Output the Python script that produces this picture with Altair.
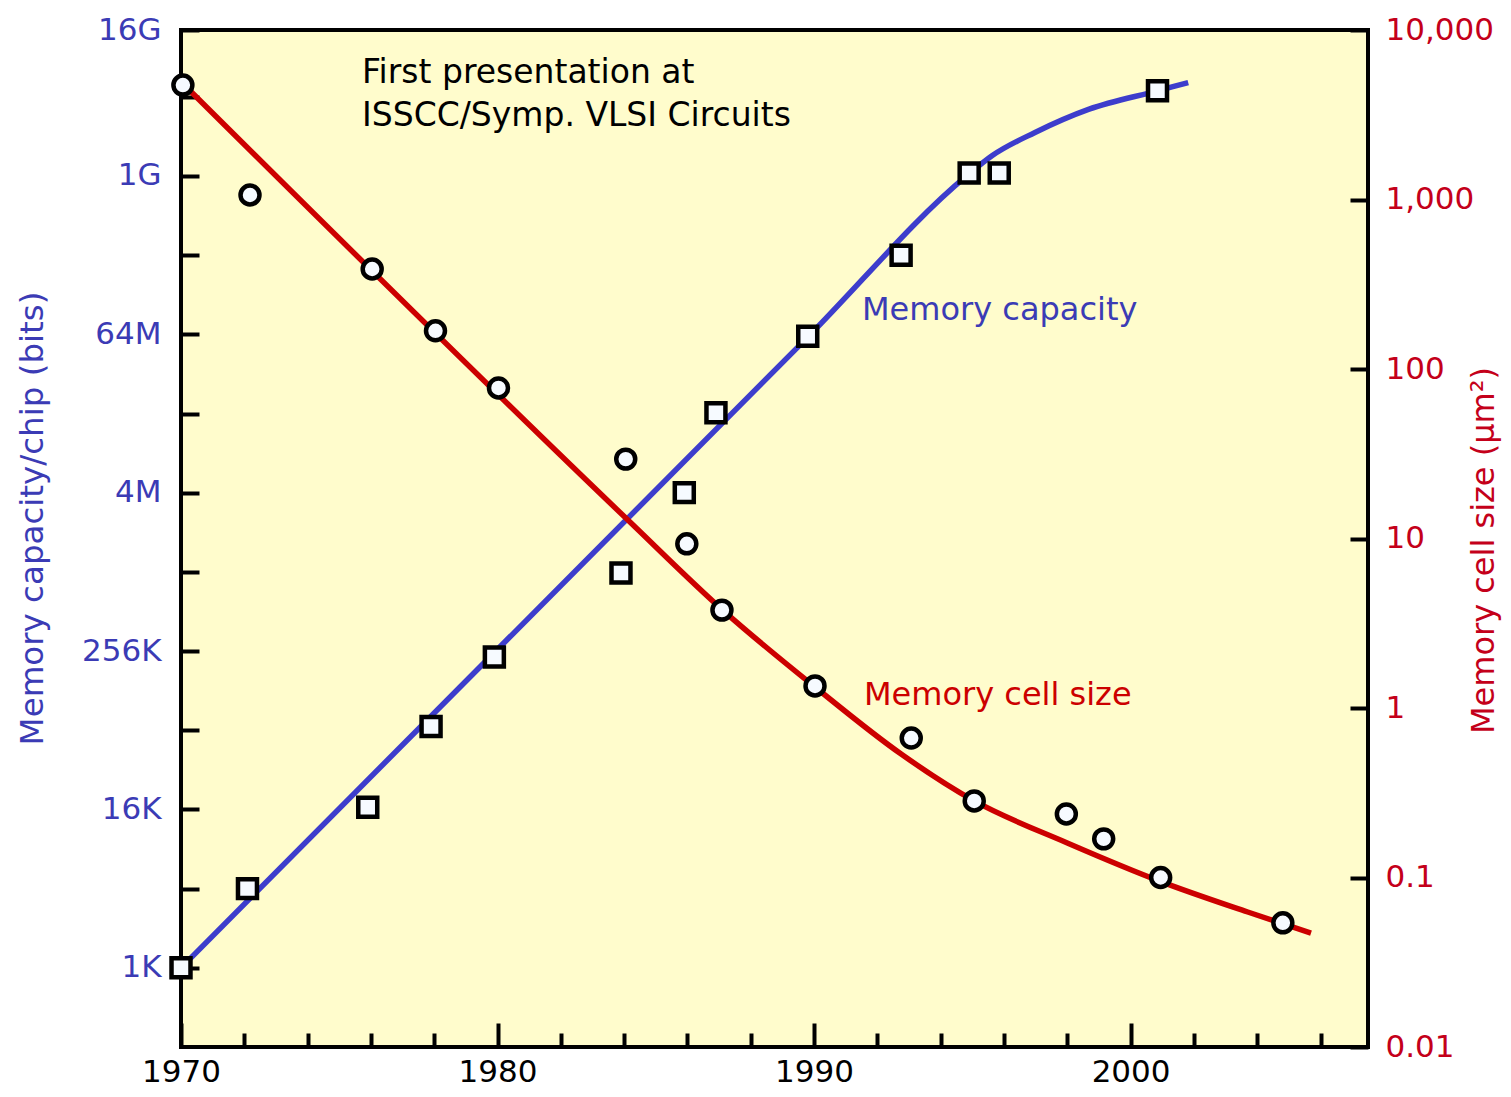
import altair as alt
import pandas as pd

# ---------------- data ----------------
# Memory capacity per chip (squares), bits
cap_years = [1970.0, 1972.1, 1975.9, 1977.9, 1979.9, 1983.9, 1985.9, 1986.9,
             1989.8, 1992.75, 1994.9, 1995.85, 2000.85]
cap_bits = [1024, 4096, 17000, 70000, 236000, 1.03e6, 4.2e6, 17e6,
            65e6, 268e6, 1.13e9, 1.13e9, 4.77e9]

# Memory capacity trend curve
cap_curve_years = [1970.0, 1989.84, 1994.81, 1995.62,
                   1996.98, 1998.69, 2000.85, 2001.82]
cap_curve_bits = [1024, 65.3e6, 1.07e9, 1.53e9,
                  2.3e9, 3.46e9, 4.77e9, 5.51e9]

# Memory cell size (circles), um^2
cell_years = [1970.06, 1972.18, 1976.04, 1978.04, 1980.03, 1984.05, 1985.98,
              1987.09, 1990.03, 1993.07, 1995.06, 1997.97, 1999.15, 2000.95,
              2004.81]
cell_um2 = [4730, 1063, 389, 168, 77.3, 29.4, 9.3, 3.78, 1.35, 0.665, 0.283,
            0.237, 0.169, 0.1, 0.054]

# Memory cell size trend curve
cell_curve_years = [1970.2, 1984.11, 1987.15, 1990.03, 1992.75, 1995.06,
                    1998.0, 2001.0, 2003.7, 2005.7]
cell_curve_um2 = [4550, 12.9, 3.73, 1.33, 0.535, 0.283, 0.160,
                  0.094, 0.0626, 0.047]

# axis ticks / labels
x_major = [1970, 1980, 1990, 2000]
x_minor = [1972, 1974, 1976, 1978, 1982, 1984, 1986, 1988, 1992, 1994, 1996,
           1998, 2002, 2004, 2006]
cap_top = 1.383e10
cap_ticks = [2 ** k for k in range(10, 33, 2)] + [cap_top]
cap_labels = ["1K", "", "16K", "", "256K", "", "4M", "", "64M", "", "1G", "", "16G"]
cell_ticks = [0.01, 0.1, 1, 10, 100, 1000, 10000]
cell_labels = ["0.01", "0.1", "1", "10", "100", "1,000", "10,000"]

annot_lines = ["First presentation at", "ISSCC/Symp. VLSI Circuits"]

# ---------------- styling ----------------
FONT = "DejaVu Sans"
BLUE = "#3D3DCC"
BLUE_TXT = "#3B3BB5"
RED = "#CC0000"
RED_TXT = "#C4001A"
W, H = 1187, 1017


def expr_from(ticks, labels):
    parts = []
    for v, l in zip(ticks, labels):
        if l:
            parts.append(f"abs(datum.value - {v!r}) < {abs(v) * 1e-6!r} ? '{l}'")
    return " : ".join(parts) + " : ''"


x_scale = alt.Scale(domain=[1970, 2007.5], nice=False, zero=False)
yl_scale = alt.Scale(type="log", base=2, domain=[256, cap_top], nice=False)
yr_scale = alt.Scale(type="log", base=10, domain=[0.01, 10000], nice=False)

x_major_axis = alt.Axis(values=x_major, orient="bottom", offset=-24, tickSize=24,
                        tickWidth=4, tickColor="black", domain=False, grid=False,
                        labelFontSize=31, labelColor="black", labelPadding=10,
                        labelFlush=False, labelOverlap=False, format="d",
                        labelFont=FONT, title=None)
x_minor_axis = alt.Axis(values=x_minor, orient="bottom", offset=-14, tickSize=14,
                        tickWidth=4, tickColor="black", domain=False, grid=False,
                        labels=False, title=None)

left_axis = alt.Axis(values=cap_ticks, labelExpr=expr_from(cap_ticks, cap_labels),
                     orient="left", offset=-18, tickSize=18, tickWidth=4,
                     tickColor="black", domain=False, grid=False,
                     labelColor=BLUE_TXT, labelFontSize=31, labelFont=FONT,
                     labelPadding=20, labelOverlap=False, labelFlush=False,
                     title="Memory capacity/chip (bits)", titleColor=BLUE_TXT,
                     titleFontSize=32.5, titleFont=FONT, titleFontWeight="normal",
                     titleAngle=270, titleX=-167, titleY=488, titleAlign="center",
                     titleBaseline="middle")

right_axis = alt.Axis(values=cell_ticks, labelExpr=expr_from(cell_ticks, cell_labels),
                      orient="right", offset=-18, tickSize=18, tickWidth=4,
                      tickColor="black", domain=False, grid=False,
                      labelColor=RED_TXT, labelFontSize=31, labelFont=FONT,
                      labelPadding=17, labelOverlap=False, labelFlush=False,
                      title="Memory cell size (μm²)", titleColor=RED_TXT,
                      titleFontSize=32, titleFont=FONT, titleFontWeight="normal",
                      titleAngle=270, titleX=133, titleY=520, titleAlign="center",
                      titleBaseline="middle")

cap_df = pd.DataFrame({"year": cap_years, "bits": cap_bits})
cap_curve_df = pd.DataFrame({"year": cap_curve_years, "bits": cap_curve_bits})
cell_df = pd.DataFrame({"year": cell_years, "um2": cell_um2})
cell_curve_df = pd.DataFrame({"year": cell_curve_years, "um2": cell_curve_um2})
annot_df = pd.DataFrame({"t": [0]})

xA = alt.X("year:Q", scale=x_scale, axis=x_major_axis)
yA = alt.Y("bits:Q", scale=yl_scale, axis=left_axis)
xB = alt.X("year:Q", scale=x_scale, axis=x_minor_axis)
yB = alt.Y("um2:Q", scale=yr_scale, axis=right_axis)

blue_line = alt.Chart(cap_curve_df).mark_line(
    color=BLUE, strokeWidth=5.5, interpolate="monotone").encode(x=xA, y=yA)
squares = alt.Chart(cap_df).mark_point(
    shape="square", size=360, filled=False, fill="#F6FAFF", fillOpacity=1,
    stroke="black", strokeWidth=4.5, opacity=1).encode(x=xA, y=yA)


def annot(text, x, y, color, size=32):
    return alt.Chart(annot_df).mark_text(
        text=text, align="left", baseline="alphabetic", font=FONT,
        fontSize=size, color=color).encode(x=alt.value(x), y=alt.value(y))


texts = [
    annot(annot_lines[0], 181, 53, "black", 33),
    annot(annot_lines[1], 181, 96, "black", 33),
    annot("Memory capacity", 681, 290, BLUE_TXT),
    annot("Memory cell size", 683, 675, RED),
]

layerA = alt.layer(blue_line, squares, *texts)

red_line = alt.Chart(cell_curve_df).mark_line(
    color=RED, strokeWidth=5.5, interpolate="monotone").encode(x=xB, y=yB)
circles = alt.Chart(cell_df).mark_point(
    shape="circle", size=360, filled=False, fill="#F6FAFF", fillOpacity=1,
    stroke="black", strokeWidth=4.5, opacity=1).encode(x=xB, y=yB)

layerB = alt.layer(red_line, circles)

chart = alt.layer(layerA, layerB).resolve_scale(
    y="independent"
).resolve_axis(
    x="independent", y="independent"
).properties(
    width=W, height=H,
    padding={"left": 173, "top": 22, "right": 135, "bottom": 42},
    autosize=alt.AutoSizeParams(type="none"),
    background="white",
).configure_view(
    fill="#FFFCCC", stroke="black", strokeWidth=4
)

chart.save("out.html", embed_options={"renderer": "svg", "actions": False})
